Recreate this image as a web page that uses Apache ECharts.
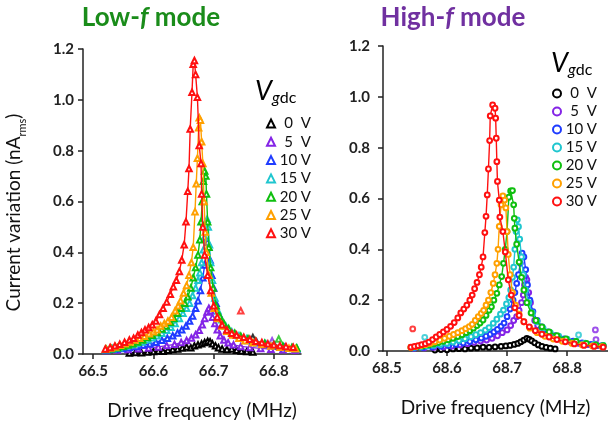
<!DOCTYPE html>
<html><head><meta charset="utf-8">
<script src="https://cdn.jsdelivr.net/npm/echarts@6/dist/echarts.min.js"></script>
<style>html,body{margin:0;padding:0;background:#fff}#c{width:608px;height:426px}</style>
</head><body><div id="c"></div>
<script>
const voltages = [0, 5, 10, 15, 20, 25, 30];
const colors = ['#000000', '#8424e6', '#1f3cff', '#1fc6cf', '#0fbf0f', '#ffa000', '#ff1010'];
const xTicksLow = [66.5, 66.6, 66.7, 66.8];
const xTicksHigh = [68.5, 68.6, 68.7, 68.8];
const yTicks = [0, 0.2, 0.4, 0.6, 0.8, 1.0, 1.2];

// ---- Low-f mode (triangles) ----
const low0 = [[66.560,0.004],[66.570,0.006],[66.580,0.005],[66.590,0.008],[66.600,0.010],[66.608,0.012],[66.616,0.011],[66.624,0.015],[66.632,0.018],[66.640,0.020],[66.648,0.024],[66.655,0.028],[66.662,0.025],[66.668,0.032],[66.674,0.036],[66.680,0.040],[66.685,0.045],[66.690,0.050],[66.694,0.048],[66.698,0.040],[66.703,0.032],[66.708,0.025],[66.714,0.020],[66.722,0.018],[66.730,0.020],[66.738,0.015],[66.746,0.012],[66.755,0.010],[66.765,0.008]];
const low5 = [[66.522,0.014],[66.540,0.016],[66.558,0.018],[66.575,0.021],[66.592,0.024],[66.608,0.028],[66.622,0.033],[66.635,0.038],[66.646,0.045],[66.655,0.053],[66.663,0.063],[66.670,0.076],[66.676,0.093],[66.681,0.115],[66.685,0.140],[66.689,0.165],[66.692,0.180],[66.695,0.170],[66.698,0.145],[66.702,0.120],[66.706,0.095],[66.711,0.072],[66.717,0.055],[66.724,0.044],[66.733,0.036],[66.745,0.030],[66.760,0.026],[66.778,0.022],[66.795,0.019],[66.815,0.017],[66.835,0.015]];
const low10 = [[66.522,0.016],[66.535,0.019],[66.548,0.022],[66.560,0.026],[66.572,0.030],[66.583,0.035],[66.594,0.040],[66.604,0.046],[66.614,0.054],[66.623,0.062],[66.632,0.072],[66.640,0.083],[66.647,0.095],[66.654,0.110],[66.660,0.130],[66.665,0.150],[66.670,0.180],[66.674,0.210],[66.678,0.250],[66.682,0.300],[66.685,0.350],[66.688,0.400],[66.690,0.440],[66.692,0.420],[66.694,0.370],[66.697,0.310],[66.700,0.260],[66.704,0.200],[66.709,0.155],[66.715,0.120],[66.722,0.095],[66.732,0.078],[66.744,0.064],[66.757,0.053],[66.772,0.044],[66.787,0.037],[66.802,0.031],[66.818,0.026],[66.832,0.022],[66.838,0.020]];
const low15 = [[66.521,0.018],[66.532,0.021],[66.543,0.025],[66.554,0.031],[66.563,0.036],[66.572,0.041],[66.581,0.047],[66.590,0.056],[66.598,0.064],[66.606,0.072],[66.614,0.082],[66.622,0.093],[66.629,0.105],[66.636,0.120],[66.643,0.140],[66.649,0.160],[66.655,0.180],[66.660,0.200],[66.665,0.230],[66.670,0.260],[66.674,0.290],[66.677,0.320],[66.680,0.360],[66.683,0.410],[66.685,0.460],[66.687,0.510],[66.689,0.530],[66.691,0.500],[66.693,0.430],[66.695,0.360],[66.698,0.290],[66.702,0.220],[66.707,0.170],[66.713,0.135],[66.720,0.110],[66.730,0.088],[66.742,0.072],[66.755,0.060],[66.770,0.049],[66.785,0.041],[66.800,0.035],[66.815,0.030],[66.830,0.025],[66.838,0.023]];
const low20 = [[66.522,0.018],[66.530,0.021],[66.540,0.025],[66.550,0.030],[66.558,0.035],[66.566,0.040],[66.574,0.047],[66.582,0.055],[66.590,0.065],[66.598,0.074],[66.606,0.085],[66.614,0.098],[66.621,0.110],[66.628,0.125],[66.634,0.140],[66.640,0.160],[66.646,0.180],[66.652,0.200],[66.657,0.225],[66.662,0.260],[66.666,0.300],[66.670,0.340],[66.674,0.390],[66.677,0.450],[66.679,0.520],[66.681,0.600],[66.683,0.680],[66.685,0.720],[66.687,0.700],[66.688,0.630],[66.690,0.520],[66.692,0.420],[66.695,0.340],[66.699,0.260],[66.704,0.190],[66.710,0.150],[66.717,0.120],[66.725,0.100],[66.735,0.082],[66.745,0.070],[66.757,0.060],[66.770,0.050],[66.785,0.042],[66.800,0.036],[66.815,0.031],[66.830,0.026],[66.838,0.024]];
const low25 = [[66.521,0.020],[66.529,0.024],[66.537,0.028],[66.545,0.034],[66.553,0.040],[66.561,0.047],[66.569,0.055],[66.577,0.062],[66.585,0.070],[66.593,0.080],[66.600,0.088],[66.606,0.095],[66.612,0.110],[66.618,0.120],[66.624,0.130],[66.630,0.145],[66.636,0.170],[66.641,0.190],[66.645,0.210],[66.650,0.240],[66.655,0.270],[66.659,0.310],[66.663,0.360],[66.666,0.420],[66.669,0.560],[66.671,0.670],[66.673,0.770],[66.675,0.890],[66.676,0.930],[66.678,0.920],[66.680,0.835],[66.682,0.750],[66.684,0.600],[66.686,0.480],[66.688,0.400],[66.692,0.310],[66.696,0.240],[66.701,0.180],[66.707,0.140],[66.714,0.110],[66.722,0.090],[66.732,0.075],[66.742,0.062],[66.752,0.052],[66.765,0.044],[66.780,0.037],[66.795,0.031],[66.810,0.027],[66.825,0.023],[66.836,0.021]];
const low30 = [[66.520,0.020],[66.528,0.026],[66.536,0.032],[66.544,0.038],[66.552,0.046],[66.560,0.055],[66.567,0.062],[66.574,0.075],[66.580,0.085],[66.586,0.095],[66.592,0.104],[66.598,0.115],[66.604,0.130],[66.610,0.155],[66.616,0.180],[66.622,0.205],[66.628,0.235],[66.633,0.265],[66.638,0.290],[66.643,0.325],[66.647,0.370],[66.651,0.430],[66.654,0.520],[66.657,0.640],[66.659,0.730],[66.661,0.885],[66.664,1.030],[66.666,1.140],[66.668,1.155],[66.670,1.100],[66.673,1.010],[66.676,0.820],[66.679,0.750],[66.680,0.630],[66.682,0.500],[66.685,0.390],[66.690,0.310],[66.695,0.250],[66.700,0.190],[66.706,0.146],[66.714,0.115],[66.722,0.094],[66.730,0.082],[66.738,0.075],[66.750,0.066],[66.760,0.058],[66.770,0.050],[66.780,0.045],[66.790,0.040],[66.800,0.036],[66.810,0.033],[66.820,0.030],[66.832,0.027]];
const lowOut0 = [[66.765,0.065]];
const lowOut5 = [[66.797,0.052]];
const lowOut20 = [[66.808,0.059]];
const lowOut30 = [[66.745,0.170]];

// ---- High-f mode (circles) ----
const high0 = [[68.580,0.004],[68.590,0.006],[68.600,0.005],[68.610,0.008],[68.620,0.009],[68.630,0.008],[68.640,0.011],[68.650,0.012],[68.660,0.015],[68.670,0.014],[68.680,0.016],[68.690,0.018],[68.698,0.020],[68.705,0.022],[68.712,0.026],[68.718,0.030],[68.723,0.036],[68.728,0.043],[68.733,0.050],[68.737,0.046],[68.741,0.040],[68.746,0.032],[68.752,0.024],[68.758,0.018],[68.765,0.014],[68.772,0.011],[68.780,0.008]];
const high5 = [[68.545,0.011],[68.562,0.012],[68.578,0.014],[68.594,0.016],[68.608,0.019],[68.622,0.024],[68.634,0.029],[68.645,0.034],[68.656,0.039],[68.666,0.043],[68.675,0.050],[68.684,0.060],[68.692,0.072],[68.700,0.083],[68.706,0.100],[68.711,0.120],[68.716,0.135],[68.720,0.160],[68.724,0.190],[68.727,0.220],[68.729,0.260],[68.731,0.290],[68.733,0.280],[68.736,0.230],[68.739,0.190],[68.742,0.150],[68.746,0.120],[68.751,0.100],[68.758,0.080],[68.767,0.064],[68.778,0.052],[68.790,0.043],[68.805,0.036],[68.820,0.030],[68.835,0.025],[68.850,0.021],[68.860,0.019]];
const high10 = [[68.545,0.012],[68.560,0.014],[68.575,0.016],[68.590,0.019],[68.603,0.022],[68.615,0.026],[68.627,0.031],[68.638,0.037],[68.648,0.044],[68.657,0.051],[68.665,0.058],[68.672,0.066],[68.678,0.075],[68.684,0.085],[68.690,0.097],[68.695,0.110],[68.700,0.135],[68.705,0.165],[68.710,0.200],[68.713,0.230],[68.716,0.266],[68.719,0.300],[68.722,0.345],[68.725,0.385],[68.728,0.370],[68.731,0.320],[68.734,0.260],[68.738,0.200],[68.743,0.155],[68.750,0.120],[68.758,0.095],[68.768,0.075],[68.780,0.060],[68.795,0.048],[68.810,0.039],[68.825,0.032],[68.840,0.026],[68.858,0.021]];
const high15 = [[68.545,0.014],[68.556,0.016],[68.567,0.019],[68.578,0.022],[68.589,0.026],[68.600,0.030],[68.610,0.035],[68.620,0.041],[68.630,0.048],[68.640,0.056],[68.648,0.064],[68.656,0.072],[68.664,0.082],[68.670,0.092],[68.677,0.109],[68.683,0.125],[68.689,0.145],[68.694,0.161],[68.699,0.185],[68.703,0.210],[68.706,0.240],[68.709,0.290],[68.711,0.330],[68.713,0.400],[68.715,0.470],[68.717,0.516],[68.719,0.489],[68.721,0.440],[68.724,0.370],[68.727,0.300],[68.731,0.240],[68.736,0.190],[68.742,0.150],[68.750,0.115],[68.760,0.090],[68.772,0.072],[68.786,0.058],[68.800,0.047],[68.815,0.038],[68.830,0.031],[68.845,0.026],[68.860,0.022]];
const high20 = [[68.540,0.014],[68.550,0.017],[68.560,0.020],[68.570,0.024],[68.578,0.028],[68.586,0.033],[68.594,0.038],[68.602,0.044],[68.610,0.050],[68.618,0.057],[68.625,0.064],[68.632,0.072],[68.638,0.080],[68.644,0.090],[68.650,0.100],[68.655,0.110],[68.660,0.122],[68.665,0.140],[68.670,0.160],[68.674,0.174],[68.678,0.200],[68.683,0.227],[68.687,0.260],[68.691,0.293],[68.694,0.345],[68.697,0.400],[68.700,0.470],[68.703,0.605],[68.706,0.630],[68.709,0.631],[68.711,0.575],[68.712,0.522],[68.713,0.483],[68.716,0.420],[68.720,0.350],[68.724,0.290],[68.728,0.240],[68.733,0.190],[68.740,0.150],[68.748,0.120],[68.758,0.095],[68.770,0.075],[68.783,0.060],[68.798,0.048],[68.815,0.038],[68.832,0.030],[68.848,0.024],[68.860,0.021]];
const high25 = [[68.540,0.014],[68.548,0.017],[68.556,0.021],[68.564,0.025],[68.572,0.030],[68.580,0.036],[68.588,0.043],[68.596,0.050],[68.604,0.058],[68.611,0.065],[68.618,0.072],[68.625,0.080],[68.631,0.088],[68.637,0.096],[68.642,0.105],[68.647,0.120],[68.652,0.135],[68.657,0.148],[68.661,0.160],[68.665,0.180],[68.669,0.200],[68.673,0.230],[68.677,0.266],[68.680,0.300],[68.683,0.345],[68.685,0.400],[68.687,0.490],[68.690,0.575],[68.693,0.610],[68.696,0.594],[68.698,0.563],[68.700,0.470],[68.702,0.380],[68.705,0.300],[68.709,0.230],[68.714,0.180],[68.720,0.145],[68.728,0.115],[68.738,0.090],[68.750,0.072],[68.763,0.058],[68.777,0.047],[68.792,0.038],[68.808,0.030],[68.825,0.024],[68.842,0.020],[68.858,0.017]];
const high30 = [[68.540,0.015],[68.546,0.018],[68.552,0.021],[68.558,0.025],[68.564,0.029],[68.570,0.035],[68.576,0.045],[68.582,0.055],[68.588,0.065],[68.594,0.075],[68.600,0.085],[68.606,0.097],[68.612,0.112],[68.618,0.130],[68.623,0.150],[68.628,0.165],[68.633,0.180],[68.638,0.200],[68.642,0.220],[68.646,0.245],[68.650,0.270],[68.654,0.300],[68.657,0.330],[68.660,0.370],[68.663,0.466],[68.665,0.530],[68.667,0.614],[68.669,0.716],[68.671,0.828],[68.672,0.925],[68.676,0.968],[68.680,0.955],[68.681,0.916],[68.682,0.837],[68.683,0.745],[68.684,0.667],[68.687,0.594],[68.688,0.527],[68.693,0.470],[68.697,0.390],[68.702,0.280],[68.707,0.220],[68.713,0.170],[68.720,0.140],[68.728,0.115],[68.737,0.095],[68.747,0.080],[68.758,0.066],[68.770,0.055],[68.783,0.045],[68.797,0.036],[68.812,0.028],[68.828,0.022],[68.845,0.018],[68.860,0.015]];
const highOut5 = [[68.847,0.083],[68.848,0.045]];
const highOut15 = [[68.563,0.054],[68.819,0.063]];
const highOut30 = [[68.543,0.087]];

const lowData = [low0, low5, low10, low15, low20, low25, low30];
const lowOut = [lowOut0, lowOut5, [], [], lowOut20, [], lowOut30];
const highData = [high0, high5, high10, high15, high20, high25, high30];
const highOut = [[], highOut5, [], highOut15, [], [], highOut30];

const FONT = 'Lato';
const series = [];
function addPanel(prefix, data, outs, axisIdx, symbol, size) {
  voltages.forEach((v, i) => {
    const name = prefix + v;
    series.push({
      name, type: 'line', xAxisIndex: axisIdx, yAxisIndex: axisIdx,
      data: data[i], symbol, symbolSize: size, showAllSymbol: true,
      lineStyle: { width: 1.4, color: colors[i] },
      itemStyle: { color: colors[i], borderWidth: 1.1 },
      z: 2 + i, animation: false
    });
    if (outs[i].length) {
      series.push({
        name, type: 'scatter', xAxisIndex: axisIdx, yAxisIndex: axisIdx,
        data: outs[i], symbol, symbolSize: size,
        itemStyle: { color: colors[i], borderWidth: 1.1 }, z: 2 + i, animation: false
      });
    }
  });
}
addPanel('L', lowData, lowOut, 0, 'emptyTriangle', 5.5);
addPanel('H', highData, highOut, 1, 'emptyCircle', 4.8);

const axisLineStyle = { show: true, lineStyle: { color: '#222', width: 1.5 } };
function xAxis(gridIndex, min, max, ticks, nameStr, namePad) {
  return {
    type: 'value', gridIndex, min, max,
    axisLine: axisLineStyle,
    axisTick: { show: true, length: 5, lineStyle: { color: '#222', width: 1.5 }, customValues: ticks },
    axisLabel: { customValues: ticks, margin: 10, fontFamily: FONT, fontWeight: 'bold', fontSize: 15, color: '#222', formatter: v => v.toFixed(1) },
    splitLine: { show: false },
    name: nameStr, nameLocation: 'middle', nameGap: 47,
    nameTextStyle: { fontFamily: FONT, fontSize: 19, color: '#111', padding: namePad }
  };
}
function yAxis(gridIndex, withName, margin) {
  const a = {
    type: 'value', gridIndex, min: 0, max: 1.2, interval: 0.2,
    axisLine: axisLineStyle,
    axisTick: { show: true, length: 5, lineStyle: { color: '#222', width: 1.5 } },
    axisLabel: { margin, fontFamily: FONT, fontWeight: 'bold', fontSize: 15, color: '#222', formatter: v => v.toFixed(1) },
    splitLine: { show: false }
  };
  if (withName) {
    a.name = '{a|Current variation (nA}{s|rms}{a|)}';
    a.nameLocation = 'middle';
    a.nameRotate = 90;
    a.nameGap = 55;
    a.nameTextStyle = {
      padding: [0, 22, 0, 0],
      rich: {
        a: { fontFamily: FONT, fontSize: 19, color: '#111', lineHeight: 28, verticalAlign: 'middle' },
        s: { fontFamily: FONT, fontSize: 11, color: '#111', lineHeight: 12, verticalAlign: 'bottom' }
      }
    };
  }
  return a;
}

function legend(prefix, left, top, icon, gap) {
  return {
    orient: 'vertical', left, top, icon, itemWidth: 8, itemHeight: 8, itemGap: gap,
    data: voltages.map(v => prefix + v),
    itemStyle: { borderWidth: 1.2 },
    formatter: name => '{n|' + name.slice(1) + '} V',
    textStyle: { fontFamily: FONT, fontSize: 15, color: '#111',
      rich: { n: { width: 17, align: 'right', fontFamily: FONT, fontSize: 15, color: '#111' } } },
    selectedMode: false
  };
}

const titleRich = (color) => ({
  a: { fontFamily: FONT, fontWeight: 'bold', fontSize: 26, fill: color },
  i: { fontFamily: FONT, fontWeight: 'bold', fontStyle: 'italic', fontSize: 26, fill: color }
});
const vRich = {
  v: { fontFamily: FONT, fontStyle: 'italic', fontSize: 27, fill: '#000', lineHeight: 30 },
  g: { fontFamily: FONT, fontStyle: 'italic', fontSize: 16, fill: '#000', lineHeight: 16, verticalAlign: 'bottom' },
  d: { fontFamily: FONT, fontSize: 16, fill: '#000', lineHeight: 16, verticalAlign: 'bottom' }
};

const chart = echarts.init(document.getElementById('c'), null, { renderer: 'canvas' });
chart.setOption({
  animation: false,
  backgroundColor: '#fff',
  grid: [
    { left: 83, top: 49, width: 218, height: 305, outerBoundsMode: 'none', containLabel: false },
    { left: 383, top: 46, width: 225, height: 305, outerBoundsMode: 'none', containLabel: false }
  ],
  xAxis: [
    xAxis(0, 66.483, 66.845, xTicksLow, 'Drive frequency (MHz)', [0, 0, 0, 20]),
    xAxis(1, 68.4935, 68.868, xTicksHigh, 'Drive frequency (MHz)', [0, 0, 0, 0])
  ],
  yAxis: [yAxis(0, true, 9), yAxis(1, false, 13)],
  legend: [legend('L', 261, 111, 'emptyTriangle', 3.3), legend('H', 547, 81, 'emptyCircle', 3)],
  graphic: [
    { type: 'text', x: 151, y: 18, style: { text: '{a|Low-}{i|f}{a| mode}', rich: titleRich('#1a8c1a'), align: 'center', verticalAlign: 'middle' } },
    { type: 'text', x: 453, y: 18, style: { text: '{a|High-}{i|f}{a| mode}', rich: titleRich('#7030a0'), align: 'center', verticalAlign: 'middle' } },
    { type: 'text', x: 255, y: 76, style: { text: '{v|V}{g|g}{d|dc}', rich: vRich } },
    { type: 'text', x: 551, y: 48, style: { text: '{v|V}{g|g}{d|dc}', rich: vRich } }
  ],
  series
});
</script>
</body></html>
